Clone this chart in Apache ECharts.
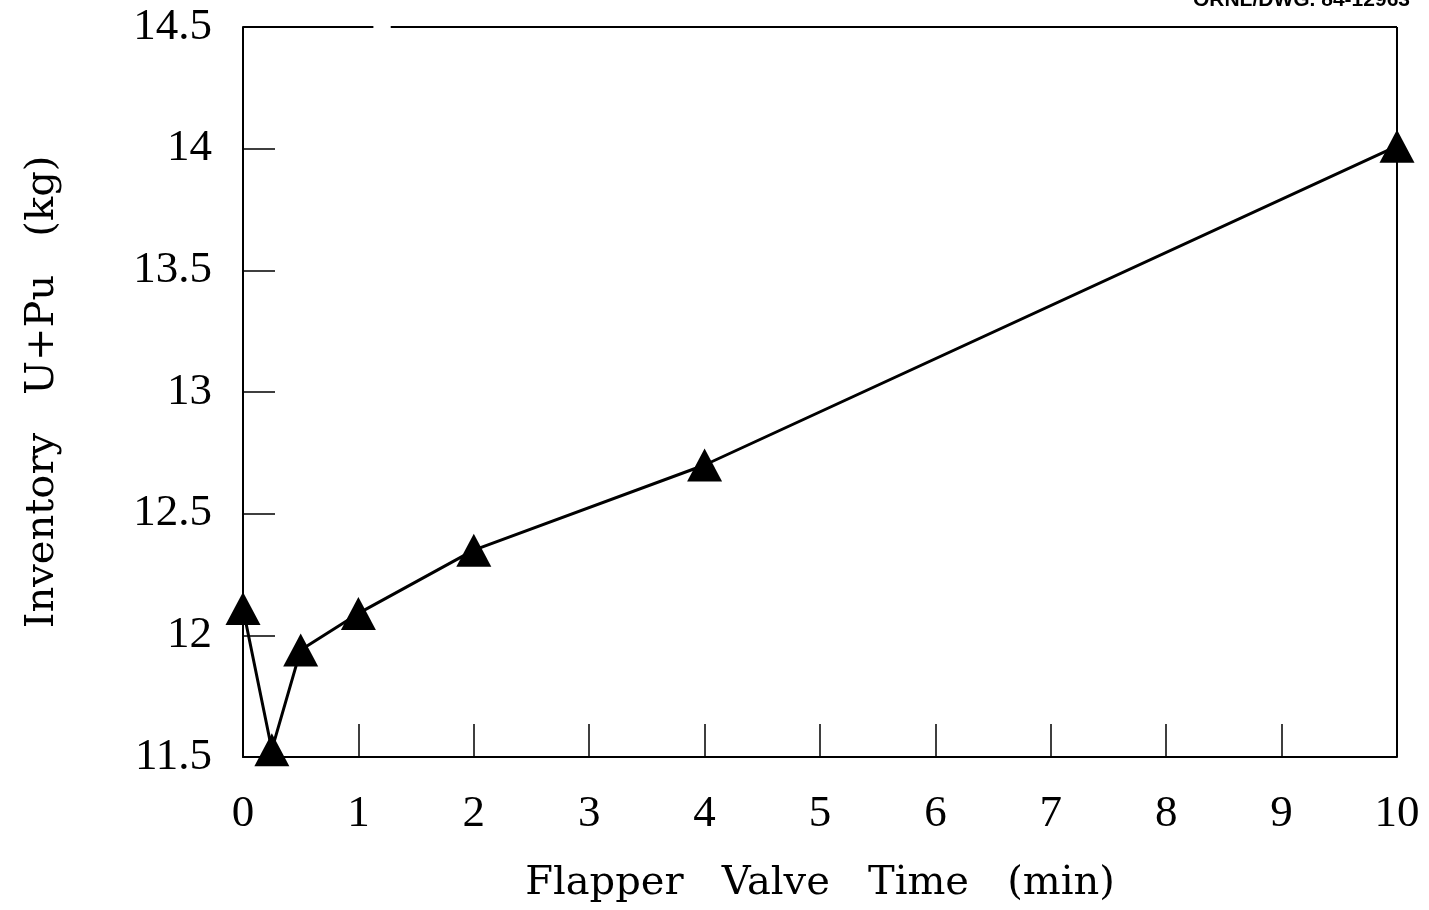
<!DOCTYPE html>
<html>
<head>
<meta charset="utf-8">
<script src="https://cdn.jsdelivr.net/npm/echarts@6/dist/echarts.min.js"></script>
<style>
  html, body { margin: 0; padding: 0; background: #fff; }
  #chart { width: 1429px; height: 910px; }
</style>
</head>
<body>
<div id="chart"></div>
<script>
// Data
const flapperTime = [0, 0.25, 0.5, 1, 2, 4, 10];           // min
const inventory   = [12.11, 11.53, 11.94, 12.09, 12.35, 12.70, 14.01]; // kg U+Pu
const xAxisTitle = 'Flapper   Valve   Time   (min)';
const yAxisTitle = 'Inventory   U+Pu   (kg)';
const drawingId  = 'ORNL/DWG. 84-12963';

const chart = echarts.init(document.getElementById('chart'), null, { renderer: 'canvas' });

const tickFont = { fontFamily: 'Liberation Serif', fontSize: 45, color: '#000' };
const titleFont = { fontFamily: 'DejaVu Serif', fontSize: 40, color: '#000' };

const option = {
  animation: false,
  backgroundColor: '#fff',
  grid: { left: 243, right: 32, top: 27, bottom: 153, containLabel: false },
  xAxis: {
    type: 'value', min: 0, max: 10, interval: 1,
    name: xAxisTitle, nameLocation: 'middle', nameGap: 107,
    nameTextStyle: titleFont,
    axisLine: { show: true, lineStyle: { color: '#000', width: 2 } },
    axisTick: { show: true, inside: true, length: 33, lineStyle: { color: '#000', width: 1.5 } },
    axisLabel: Object.assign({ margin: 35 }, tickFont),
    splitLine: { show: false }
  },
  yAxis: {
    type: 'value', min: 11.5, max: 14.5, interval: 0.5,
    name: yAxisTitle, nameLocation: 'middle', nameGap: 180, nameRotate: 90,
    nameTextStyle: titleFont,
    axisLine: { show: true, lineStyle: { color: '#000', width: 2 } },
    axisTick: { show: true, inside: true, length: 32, lineStyle: { color: '#000', width: 1.5 } },
    axisLabel: Object.assign({ margin: 31 }, tickFont),
    splitLine: { show: false }
  },
  series: [{
    type: 'line',
    data: flapperTime.map((x, i) => [x, inventory[i]]),
    clip: false,
    symbol: 'triangle',
    symbolSize: [35, 33],
    showAllSymbol: true,
    lineStyle: { color: '#000', width: 3 },
    itemStyle: { color: '#000', borderWidth: 0 },
    z: 3
  }]
};
chart.setOption(option);

// Frame: right side and top (with the small gap of the original drawing)
const tl = chart.convertToPixel({ gridIndex: 0 }, [0, 14.5]);
const br = chart.convertToPixel({ gridIndex: 0 }, [10, 11.5]);
const gapStart = chart.convertToPixel({ gridIndex: 0 }, [1.13, 14.5])[0];
const gapEnd = chart.convertToPixel({ gridIndex: 0 }, [1.28, 14.5])[0];
chart.setOption({
  graphic: [
    { type: 'line', shape: { x1: tl[0], y1: tl[1], x2: gapStart, y2: tl[1] }, style: { stroke: '#000', lineWidth: 2 } },
    { type: 'line', shape: { x1: gapEnd, y1: tl[1], x2: br[0], y2: tl[1] }, style: { stroke: '#000', lineWidth: 2 } },
    { type: 'line', shape: { x1: br[0], y1: tl[1], x2: br[0], y2: br[1] }, style: { stroke: '#000', lineWidth: 2 } },
    { type: 'text', right: 19, top: -10,
      style: { text: drawingId, font: 'bold 21px "Liberation Sans", Arial, sans-serif', fill: '#000' } }
  ]
});
</script>
</body>
</html>
